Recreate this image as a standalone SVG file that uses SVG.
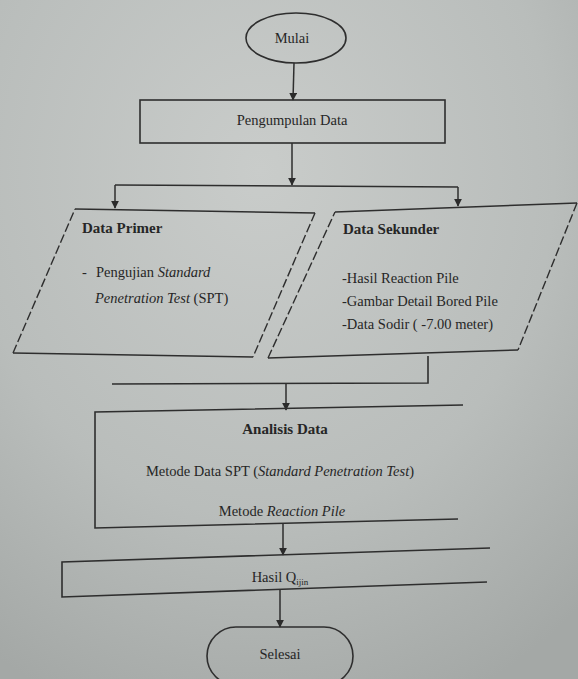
<svg xmlns="http://www.w3.org/2000/svg" width="578" height="679" viewBox="0 0 578 679">
<defs>
<radialGradient id="bg" cx="0.45" cy="0.25" r="0.85">
<stop offset="0" stop-color="#c9ccca"/>
<stop offset="0.6" stop-color="#b9bdbb"/>
<stop offset="1" stop-color="#a4a8a6"/>
</radialGradient>
<marker id="ah" viewBox="0 0 10 10" refX="9" refY="5" markerWidth="8" markerHeight="8" orient="auto" markerUnits="userSpaceOnUse">
<path d="M0,0 L10,5 L0,10 z" fill="#2b2b2b"/>
</marker>
<style>
.ln{fill:none;stroke:#2e2e2e;stroke-width:1.6}
.ds{fill:none;stroke:#2e2e2e;stroke-width:1.4;stroke-dasharray:9 3}
.ar{fill:none;stroke:#2e2e2e;stroke-width:1.5;marker-end:url(#ah)}
text{font-family:"Liberation Serif","Times New Roman",serif;font-size:14.5px;fill:#262626}
.b{font-weight:bold;font-size:15px}
.c{text-anchor:middle}
.i{font-style:italic}
</style>
</defs>
<rect width="578" height="679" fill="url(#bg)"/>
<g id="connectors">
<path class="ar" d="M294,63 L293,100"/>
<path class="ar" d="M292,143 L292,185"/>
<path class="ln" d="M115,185 L458,187"/>
<path class="ar" d="M115,185 L115,208"/>
<path class="ar" d="M458,187 L458,206"/>
<path class="ln" d="M428,356 L428,383 L112,384"/>
<path class="ar" d="M286,384 L286,410"/>
<path class="ar" d="M283,524 L283,555"/>
<path class="ar" d="M280,590 L280,627"/>
</g>
<g id="mulai">
<ellipse cx="296" cy="38" rx="50" ry="25" class="ln"/>
<text x="292" y="43" class="c">Mulai</text>
</g>
<g id="pengumpulan">
<rect x="140" y="100" width="305" height="43" class="ln"/>
<text x="292" y="125" class="c">Pengumpulan Data</text>
</g>
<g id="primer">
<path class="ln" d="M75,209 L315,213"/>
<path class="ln" d="M253,357 L13,353"/>
<path class="ds" d="M315,213 L253,357"/>
<path class="ds" d="M13,353 L75,209"/>
<text x="82" y="233" class="b">Data Primer</text>
<text x="82" y="277">-</text>
<text x="96" y="277">Pengujian <tspan class="i">Standard</tspan></text>
<text x="95" y="303"><tspan class="i">Penetration Test</tspan> (SPT)</text>
</g>
<g id="sekunder">
<path class="ln" d="M335,212 L577,203"/>
<path class="ln" d="M518,350 L268,358"/>
<path class="ds" d="M577,203 L518,350"/>
<path class="ds" d="M268,358 L335,212"/>
<text x="343" y="234" class="b">Data Sekunder</text>
<text x="342" y="283">-Hasil Reaction Pile</text>
<text x="342" y="306">-Gambar Detail Bored Pile</text>
<text x="342" y="329">-Data Sodir ( -7.00 meter)</text>
</g>
<g id="analisis">
<path class="ln" d="M463,405 L95,412 L95,528 L458,519"/>
<text x="285" y="434" class="b c">Analisis Data</text>
<text x="280" y="476" class="c">Metode Data SPT (<tspan class="i">Standard Penetration Test</tspan>)</text>
<text x="282" y="516" class="c">Metode <tspan class="i">Reaction Pile</tspan></text>
</g>
<g id="hasil">
<path class="ln" d="M490,548 L62,562 L62,597 L487,582"/>
<text x="280" y="582" class="c">Hasil Q<tspan font-size="9" dy="3">ijin</tspan></text>
</g>
<g id="selesai">
<rect x="207" y="627" width="146" height="58" rx="29" class="ln"/>
<text x="280" y="659" class="c">Selesai</text>
</g>
</svg>
